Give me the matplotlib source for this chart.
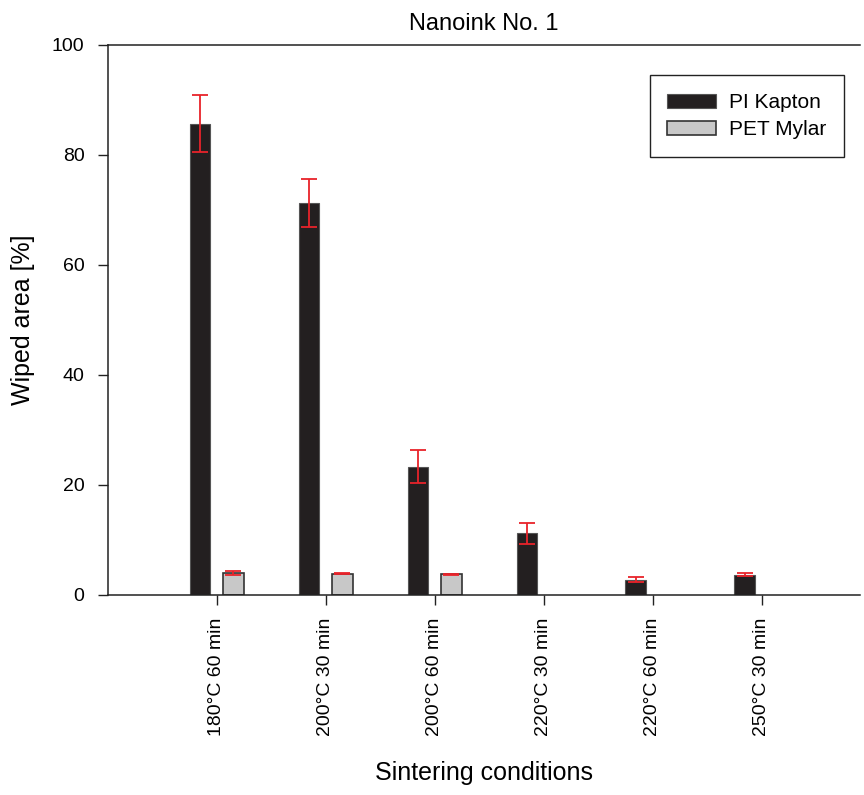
import matplotlib.pyplot as plt
import numpy as np

plt.rcParams['font.family'] = ['Liberation Sans', 'DejaVu Sans']

conditions = ['180°C 60 min', '200°C 30 min', '200°C 60 min',
              '220°C 30 min', '220°C 60 min', '250°C 30 min']
kapton = [85.7, 71.3, 23.3, 11.2, 2.8, 3.7]
kapton_err = [5.2, 4.4, 3.0, 1.9, 0.5, 0.3]
# no PET Mylar bars for the last three conditions
mylar = [4.0, 3.9, 3.75, np.nan, np.nan, np.nan]
mylar_err = [0.4, 0.1, 0.1, np.nan, np.nan, np.nan]

x = np.arange(len(conditions))
w = 0.19

fig = plt.figure(figsize=(8.64, 7.95), dpi=100)
ax = fig.add_axes([0.125, 0.2516, 0.87, 0.6918])

err_kw = dict(ecolor='#e8232a', elinewidth=1.3, capsize=5.8, capthick=1.3)
ax.bar(x - 0.155, kapton, w, color='#231f20', edgecolor='#555555', linewidth=0.8,
       yerr=kapton_err, error_kw=err_kw, label='PI Kapton')
ax.bar(x + 0.15, mylar, w, color='#c8c8c8', edgecolor='#333333', linewidth=1.2,
       yerr=mylar_err, error_kw=err_kw, label='PET Mylar')

ax.set_xlim(-1.0, 5.9)
ax.set_ylim(0, 100)
ax.set_yticks([0, 20, 40, 60, 80, 100])
ax.set_xticks(x)
ax.set_xticklabels(conditions, rotation=90)
ax.tick_params(labelsize=14, direction='out', length=7, width=1, color='#222222')
ax.tick_params(axis='y', pad=10)
ax.tick_params(axis='x', pad=9)
ax.spines['right'].set_visible(False)
for s in ['left', 'top', 'bottom']:
    ax.spines[s].set_linewidth(1.1)
    ax.spines[s].set_color('#222222')

ax.set_title('Nanoink No. 1', fontsize=17, pad=11)
ax.set_ylabel('Wiped area [%]', fontsize=18, labelpad=12)
ax.set_xlabel('Sintering conditions', fontsize=18, labelpad=18)

leg = ax.legend(loc='upper right', bbox_to_anchor=(0.979, 0.945), borderaxespad=0,
                fontsize=15, fancybox=False, edgecolor='#222222', framealpha=1,
                handlelength=2.35, handleheight=0.65, handletextpad=0.6,
                borderpad=0.85, labelspacing=0.4)
leg.get_frame().set_linewidth(1.0)

fig.savefig('out.png', dpi=100)
